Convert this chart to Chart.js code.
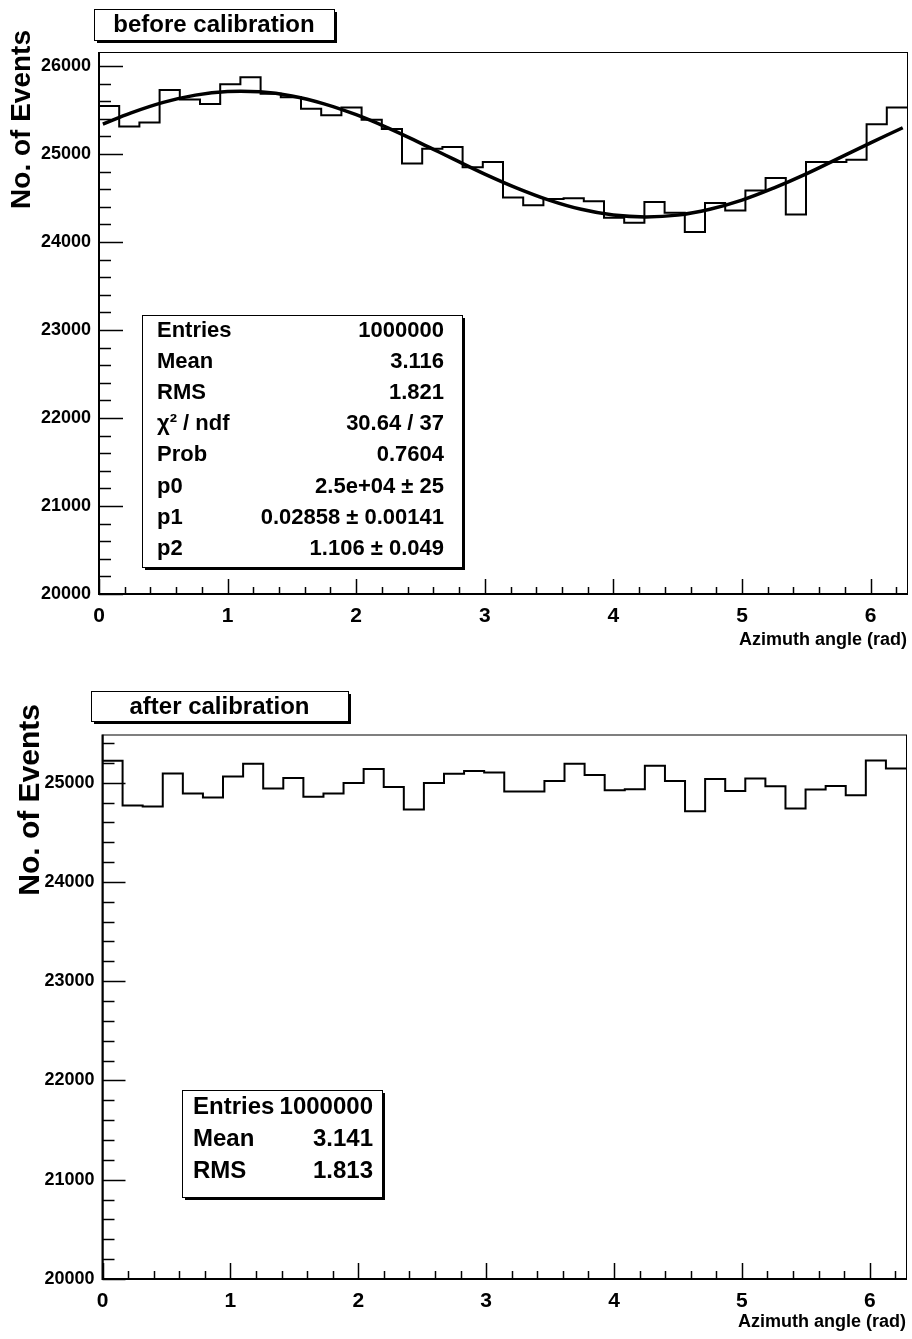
<!DOCTYPE html>
<html>
<head>
<meta charset="utf-8">
<script src="https://cdn.jsdelivr.net/npm/chart.js@4.4.1/dist/chart.umd.min.js"></script>
<style>
  body { margin: 0; background: #fff; }
  canvas { position: absolute; left: 0; }
  #before_chart { top: 0; }
  #after_chart { top: 660px; }
</style>
</head>
<body>
<canvas id="before_chart" width="912" height="660"></canvas>
<canvas id="after_chart" width="912" height="679"></canvas>
<script>
const NBINS = 40;
const XMAX = 6.2832;

// bin contents (40 bins, 0 .. 2pi)
const beforeCounts = [
  25547, 25313, 25358, 25728, 25620, 25570, 25793, 25872, 25685, 25645,
  25514, 25442, 25529, 25389, 25284, 24892, 25061, 25080, 24850, 24910,
  24506, 24419, 24490, 24498, 24464, 24275, 24219, 24456, 24332, 24113,
  24445, 24358, 24585, 24728, 24313, 24909, 24910, 24936, 25340, 25528,
];
const afterCounts = [
  25220, 24770, 24760, 25093, 24890, 24850, 25063, 25190, 24940, 25047,
  24857, 24890, 24997, 25137, 24957, 24730, 24997, 25090, 25117, 25103,
  24910, 24910, 25017, 25190, 25077, 24923, 24933, 25170, 25017, 24713,
  25037, 24917, 25043, 24963, 24740, 24930, 24967, 24873, 25223, 25143,
];

// fit curve
const fitX = [
  0.03, 0.25, 0.5, 0.75, 1.0, 1.25, 1.5, 1.75, 2.0, 2.25, 2.5, 2.75, 3.0,
  3.25, 3.5, 3.75, 4.0, 4.25, 4.5, 4.75, 5.0, 5.25, 5.5, 5.75, 6.0, 6.25,
];
const fitY = [
  25340, 25468, 25587, 25670, 25711, 25707, 25660, 25571, 25447, 25295,
  25125, 24948, 24773, 24614, 24477, 24372, 24307, 24286, 24306, 24373,
  24477, 24616, 24775, 24951, 25128, 25299,
];

// tick labels
const xLabels = [0, 1, 2, 3, 4, 5, 6];
const yLabelsBefore = [20000, 21000, 22000, 23000, 24000, 25000, 26000];
const yLabelsAfter = [20000, 21000, 22000, 23000, 24000, 25000];

// stat boxes
const statsBefore = [
  ["Entries", "1000000"],
  ["Mean", "3.116"],
  ["RMS", "1.821"],
  ["\u03c7\u00b2 / ndf", "30.64 / 37"],
  ["Prob", "0.7604"],
  ["p0", "2.5e+04 \u00b1 25"],
  ["p1", "0.02858 \u00b1 0.00141"],
  ["p2", "1.106 \u00b1 0.049"],
];
const statsAfter = [
  ["Entries", "1000000"],
  ["Mean", "3.141"],
  ["RMS", "1.813"],
];

const FONT = "'Liberation Sans', Arial, Helvetica, sans-serif";
Chart.defaults.font.family = FONT;
Chart.defaults.color = "#000";

const binEdges = Array.from({ length: NBINS + 1 }, (_, i) => (i * XMAX) / NBINS);
const histPoints = (counts) =>
  binEdges.map((x, i) => ({ x: x, y: counts[Math.min(i, NBINS - 1)] }));

const near = (v, step) => Math.abs(v / step - Math.round(v / step)) < 1e-6;

// regular tick positions (major + minor), labels come from the arrays above
const fixedTicks = (min, max, step) => (scale) => {
  const ticks = [];
  for (let k = 0; min + k * step <= max + 1e-9; k++) {
    ticks.push({ value: +(min + k * step).toFixed(4) });
  }
  scale.ticks = ticks;
};

function shadowBox(ctx, x, y, w, h) {
  ctx.fillStyle = "#000";
  ctx.fillRect(x + 3, y + 3, w, h);
  ctx.fillStyle = "#fff";
  ctx.fillRect(x, y, w, h);
  ctx.strokeStyle = "#000";
  ctx.lineWidth = 1;
  ctx.strokeRect(x + 0.5, y + 0.5, w, h);
}

// ROOT-like frame, inward ticks, title box, stats box
const rootStyle = (o) => ({
  id: "rootStyle",
  afterDraw(chart) {
    const { ctx, chartArea: a, scales } = chart;
    ctx.save();
    ctx.strokeStyle = "#000";
    ctx.lineWidth = 1;
    ctx.strokeRect(a.left + 0.5, a.top + 0.5, a.right - a.left, a.bottom - a.top);
    ctx.lineWidth = 2;
    ctx.beginPath();
    ctx.moveTo(a.left, a.top);
    ctx.lineTo(a.left, a.bottom);
    ctx.lineTo(a.right, a.bottom);
    ctx.stroke();

    ctx.lineWidth = 1.5;
    scales.y.ticks.forEach((t) => {
      const len = near(t.value, 1000) ? o.yMajor : o.yMinor;
      const py = Math.round(scales.y.getPixelForValue(t.value)) + 0.5;
      ctx.beginPath();
      ctx.moveTo(a.left, py);
      ctx.lineTo(a.left + len, py);
      ctx.stroke();
    });
    scales.x.ticks.forEach((t) => {
      const len = near(t.value, 1) ? o.xMajor : o.xMinor;
      const px = Math.round(scales.x.getPixelForValue(t.value)) + 0.5;
      ctx.beginPath();
      ctx.moveTo(px, a.bottom);
      ctx.lineTo(px, a.bottom - len);
      ctx.stroke();
    });

    // y axis title
    ctx.fillStyle = "#000";
    ctx.font = "bold " + o.yTitleSize + "px " + FONT;
    ctx.translate(o.yTitleX, o.yTitleY);
    ctx.rotate(-Math.PI / 2);
    ctx.textAlign = "right";
    ctx.textBaseline = "middle";
    ctx.fillText("No. of Events", 0, 0);
    ctx.setTransform(1, 0, 0, 1, 0, 0);

    // title box
    const tb = o.titleBox;
    shadowBox(ctx, tb.x, tb.y, tb.w, tb.h);
    ctx.fillStyle = "#000";
    ctx.font = "bold 24px " + FONT;
    ctx.textAlign = "center";
    ctx.textBaseline = "middle";
    ctx.fillText(o.title, tb.x + tb.w / 2, tb.y + tb.h / 2 + 1);

    // stats box
    const sb = o.statsBox;
    shadowBox(ctx, sb.x, sb.y, sb.w, sb.h);
    ctx.fillStyle = "#000";
    ctx.font = "bold " + sb.size + "px " + FONT;
    o.stats.forEach((row, i) => {
      const ty = sb.firstRow + i * sb.step;
      ctx.textAlign = "left";
      ctx.fillText(row[0], sb.x + sb.padL, ty);
      ctx.textAlign = "right";
      ctx.fillText(row[1], sb.x + sb.w - sb.padR, ty);
    });
    ctx.restore();
  },
});

const xScale = (height) => ({
  type: "linear",
  min: 0,
  max: XMAX,
  grid: { display: false, drawTicks: false },
  border: { display: false },
  afterBuildTicks: fixedTicks(0, XMAX, 0.2),
  ticks: {
    autoSkip: false,
    maxRotation: 0,
    padding: 10,
    font: { size: 21, weight: "bold" },
    callback: (v) => (xLabels.some((l) => Math.abs(l - v) < 1e-6) ? String(Math.round(v)) : ""),
  },
  title: {
    display: true,
    text: "Azimuth angle (rad)",
    align: "end",
    padding: 0,
    font: { size: 18, weight: "bold" },
  },
  afterFit: (scale) => {
    scale.height = height;
  },
});

const yScale = (max, labels, width, size) => ({
  type: "linear",
  min: 20000,
  max: max,
  grid: { display: false, drawTicks: false },
  border: { display: false },
  afterBuildTicks: fixedTicks(20000, max, 200),
  ticks: {
    autoSkip: false,
    padding: 8,
    font: { size: size, weight: "bold" },
    callback: (v) => (labels.includes(v) ? String(v) : ""),
  },
  afterFit: (scale) => {
    scale.width = width;
  },
});

// before calibration
new Chart(document.getElementById("before_chart"), {
  type: "line",
  data: {
    datasets: [
      {
        data: histPoints(beforeCounts),
        borderColor: "#000",
        borderWidth: 2,
        stepped: "before",
        pointRadius: 0,
        fill: false,
      },
      {
        data: fitX.map((x, i) => ({ x: x, y: fitY[i] })),
        borderColor: "#000",
        borderWidth: 3.5,
        tension: 0.4,
        pointRadius: 0,
        fill: false,
      },
    ],
  },
  options: {
    responsive: false,
    animation: false,
    devicePixelRatio: 1,
    layout: { padding: { top: 52, right: 5, bottom: 9, left: 0 } },
    plugins: { legend: { display: false }, tooltip: { enabled: false } },
    scales: {
      x: xScale(57),
      y: yScale(26160, yLabelsBefore, 99, 18),
    },
  },
  plugins: [
    rootStyle({
      yMajor: 24,
      yMinor: 12,
      xMajor: 15,
      xMinor: 7,
      yTitleSize: 28,
      yTitleX: 22,
      yTitleY: 30,
      title: "before calibration",
      titleBox: { x: 94, y: 9, w: 240, h: 31 },
      stats: statsBefore,
      statsBox: { x: 142, y: 315, w: 320, h: 252, size: 22, firstRow: 331, step: 31.1, padL: 15, padR: 18 },
    }),
  ],
});

// after calibration
new Chart(document.getElementById("after_chart"), {
  type: "line",
  data: {
    datasets: [
      {
        data: histPoints(afterCounts),
        borderColor: "#000",
        borderWidth: 2,
        stepped: "before",
        pointRadius: 0,
        fill: false,
      },
    ],
  },
  options: {
    responsive: false,
    animation: false,
    devicePixelRatio: 1,
    layout: { padding: { top: 74.5, right: 6, bottom: 6, left: 0 } },
    plugins: { legend: { display: false }, tooltip: { enabled: false } },
    scales: {
      x: xScale(54),
      y: yScale(25485, yLabelsAfter, 102.5, 18),
    },
  },
  plugins: [
    rootStyle({
      yMajor: 23,
      yMinor: 12,
      xMajor: 16,
      xMinor: 8,
      yTitleSize: 30,
      yTitleX: 31,
      yTitleY: 44,
      title: "after calibration",
      titleBox: { x: 91, y: 31, w: 257, h: 30 },
      stats: statsAfter,
      statsBox: { x: 182, y: 430, w: 200, h: 107, size: 24, firstRow: 447, step: 32, padL: 11, padR: 9 },
    }),
  ],
});
</script>
</body>
</html>
